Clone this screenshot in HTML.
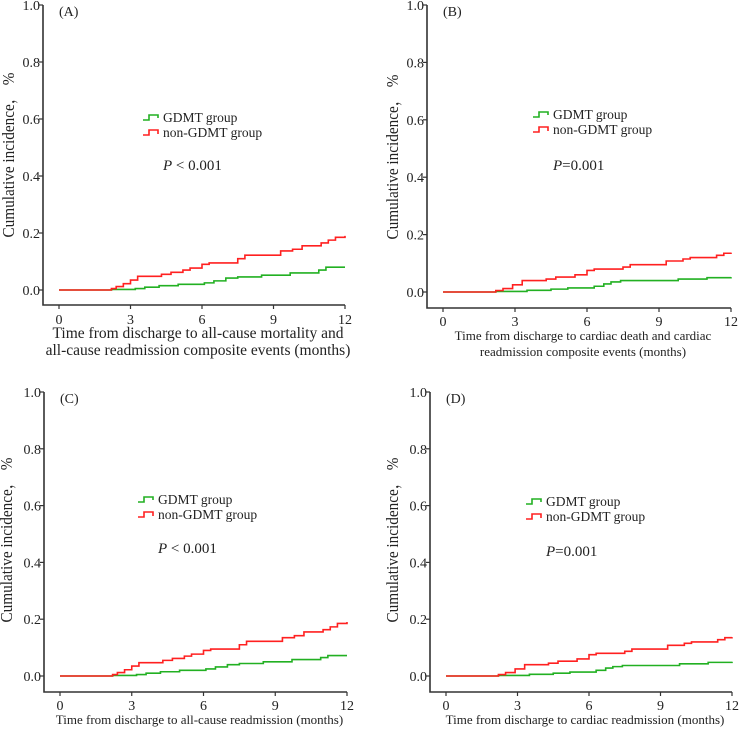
<!DOCTYPE html>
<html><head><meta charset="utf-8"><style>
body{margin:0;background:#fff;width:739px;height:729px;overflow:hidden}
svg{position:absolute;left:0;top:0}
text{font-family:"Liberation Serif","Noto Serif CJK SC",serif;fill:#222}
</style></head><body>
<svg id="chart" width="739" height="729" viewBox="0 0 739 729"></svg>
<script>
const xTicks=[0,3,6,9,12];
const yTicks=[0.0,0.2,0.4,0.6,0.8,1.0];
const yTickLabels=["0.0","0.2","0.4","0.6","0.8","1.0"];
const panelLabels=["(A)","(B)","(C)","(D)"];
const pValues=["< 0.001","=0.001","< 0.001","=0.001"];
const redTimesA=[0,2.2,2.4,2.7,3.0,3.3,4.3,4.7,5.2,5.5,6.0,6.3,7.5,7.8,9.3,9.8,10.2,11.0,11.3,11.6,12];
const redValsA=[0,0.005,0.012,0.022,0.035,0.048,0.055,0.062,0.07,0.077,0.09,0.095,0.11,0.122,0.137,0.143,0.155,0.165,0.175,0.185,0.19];
const greenTimesA=[0,2.2,3.2,3.6,4.2,5.0,6.1,6.5,7.0,7.5,8.5,9.7,10.9,11.2,12];
const greenValsA=[0,0.002,0.005,0.01,0.015,0.02,0.025,0.032,0.042,0.046,0.052,0.06,0.07,0.08,0.08];
const redTimesB=[0,2.2,2.5,2.9,3.3,4.3,4.7,5.5,6.0,6.3,7.5,7.8,9.3,10.0,10.3,11.4,11.7,12];
const redValsB=[0,0.005,0.012,0.025,0.04,0.045,0.052,0.06,0.075,0.08,0.087,0.095,0.108,0.115,0.12,0.128,0.135,0.137];
const greenTimesB=[0,2.2,3.5,4.5,5.2,6.3,6.7,7.0,7.4,9.8,11.0,12];
const greenValsB=[0,0.002,0.006,0.01,0.014,0.02,0.028,0.035,0.04,0.045,0.05,0.052];
const redTimesC=[0,2.2,2.4,2.7,3.0,3.3,4.3,4.7,5.2,5.5,6.0,6.3,7.5,7.8,9.3,9.8,10.2,11.0,11.3,11.6,12];
const redValsC=[0,0.005,0.012,0.022,0.035,0.047,0.055,0.062,0.07,0.077,0.09,0.095,0.11,0.122,0.135,0.142,0.155,0.163,0.173,0.185,0.19];
const greenTimesC=[0,2.2,3.2,3.6,4.2,5.0,6.1,6.5,7.0,7.5,8.5,9.7,10.9,11.2,12];
const greenValsC=[0,0.002,0.005,0.01,0.015,0.02,0.025,0.032,0.04,0.044,0.05,0.058,0.065,0.072,0.072];
const redTimesD=[0,2.2,2.5,2.9,3.3,4.3,4.7,5.5,6.0,6.3,7.5,7.8,9.3,10.0,10.3,11.4,11.7,12];
const redValsD=[0,0.005,0.012,0.025,0.04,0.045,0.052,0.06,0.075,0.08,0.087,0.095,0.108,0.115,0.12,0.128,0.135,0.137];
const greenTimesD=[0,2.2,3.5,4.5,5.2,6.3,6.7,7.0,7.4,9.8,11.0,12];
const greenValsD=[0,0.002,0.006,0.01,0.014,0.02,0.028,0.033,0.037,0.043,0.048,0.05];
const xTitlesA=["Time from discharge to all-cause mortality and","all-cause readmission composite events (months)"];
const xTitlesB=["Time from discharge to cardiac death and cardiac","readmission composite events (months)"];
const xTitlesC=["Time from discharge to all-cause readmission  (months)"];
const xTitlesD=["Time from discharge to cardiac readmission (months)"];

const NS="http://www.w3.org/2000/svg";
const svg=document.getElementById('chart');
function mk(tag,attrs,parent,txt){const e=document.createElementNS(NS,tag);for(const k in attrs)e.setAttribute(k,attrs[k]);if(txt!==undefined)e.textContent=txt;(parent||svg).appendChild(e);return e;}

const panels=[
 {ax:43,x0:59,x12:345,y0:290,y1:5,bot:305,tickY:324,titleY:[338,355],tfs:15.5,lx:143,ly:117,px:163,py:170,ylx:14,yly:155,red:[redTimesA,redValsA],green:[greenTimesA,greenValsA],titles:xTitlesA},
 {ax:427,x0:443,x12:731,y0:292,y1:5,bot:308,tickY:326,titleY:[340,356],tfs:13,lx:533,ly:114,px:553,py:170,ylx:398,yly:157,red:[redTimesB,redValsB],green:[greenTimesB,greenValsB],titles:xTitlesB},
 {ax:44,x0:60,x12:347,y0:676,y1:392,bot:692,tickY:710,titleY:[724],tfs:13,lx:138,ly:499,px:158,py:553,ylx:12,yly:540,red:[redTimesC,redValsC],green:[greenTimesC,greenValsC],titles:xTitlesC},
 {ax:430,x0:446,x12:732,y0:676,y1:392,bot:692,tickY:710,titleY:[724],tfs:13,lx:526,ly:501,px:546,py:556,ylx:398,yly:540,red:[redTimesD,redValsD],green:[greenTimesD,greenValsD],titles:xTitlesD}
];
const names=['a','b','c','d'];
panels.forEach((p,i)=>{
 const g=mk('g',{});
 
 
 const sx=t=>p.x0+(p.x12-p.x0)*t/12;
 const sy=v=>p.y0-(p.y0-p.y1)*v;
 const axes=mk('path',{d:`M${p.ax},${p.y1} V${p.bot} H${p.x12}`,fill:'none',stroke:'#333','stroke-width':1.6},g);
 
 
 yTicks.forEach((v,k)=>{
  mk('line',{x1:p.ax-4,x2:p.ax,y1:sy(v),y2:sy(v),stroke:'#333','stroke-width':1.2},g);
  const t=mk('text',{x:p.ax-3,y:sy(v)+5,'text-anchor':'end','font-size':14},g,yTickLabels[k]);
  
  
 });
 xTicks.forEach(v=>{
  mk('line',{x1:sx(v),x2:sx(v),y1:p.bot,y2:p.bot+4,stroke:'#333','stroke-width':1.2},g);
  const t=mk('text',{x:sx(v),y:p.tickY,'text-anchor':'middle','font-size':14},g,String(v));
  
  
 });
 p.titles.forEach((s,k)=>{
  const t=mk('text',{x:(p.ax+p.x12)/2+4,y:p.titleY[k],'text-anchor':'middle','font-size':p.tfs},g,s);
  
  
 });
 const yl=mk('text',{x:p.ylx,y:p.yly,'text-anchor':'middle','font-size':17,textLength:165,lengthAdjust:'spacingAndGlyphs',transform:`rotate(-90 ${p.ylx} ${p.yly})`},g,'Cumulative incidence， %');
 
 
 const pl=mk('text',{x:p.ax+16,y:p.y1+11,'font-size':14},g,panelLabels[i]);
 
 
 function step(ts,vs){let d=`M${sx(ts[0])},${sy(vs[0])}`;for(let k=1;k<ts.length;k++){d+=` H${sx(ts[k])} V${sy(vs[k])}`;}return d;}
 const gl=mk('path',{d:step(p.green[0],p.green[1]),fill:'none',stroke:'#22b022','stroke-width':1.6},g);
 
 
 const rl=mk('path',{d:step(p.red[0],p.red[1]),fill:'none',stroke:'#ff2020','stroke-width':1.6},g);
 
 
 const lg=mk('g',{},g);
 
 
 mk('path',{d:`M${p.lx},${p.ly+3} H${p.lx+6} V${p.ly-2} H${p.lx+15} V${p.ly+1}`,fill:'none',stroke:'#22b022','stroke-width':1.6},lg);
 const e1=mk('text',{x:p.lx+20,y:p.ly+5,'font-size':13.5},lg,'GDMT group');
 
 
 mk('path',{d:`M${p.lx},${p.ly+18} H${p.lx+6} V${p.ly+13} H${p.lx+15} V${p.ly+17}`,fill:'none',stroke:'#ff2020','stroke-width':1.6},lg);
 const e2=mk('text',{x:p.lx+20,y:p.ly+20,'font-size':13.5},lg,'non-GDMT group');
 
 
 const pv=mk('text',{x:p.px,y:p.py,'font-size':15},g);
 
 
 mk('tspan',{'font-style':'italic'},pv,'P');
 mk('tspan',{},pv,pValues[i].startsWith('<')?' '+pValues[i]:pValues[i]);
});
</script>
</body></html>
